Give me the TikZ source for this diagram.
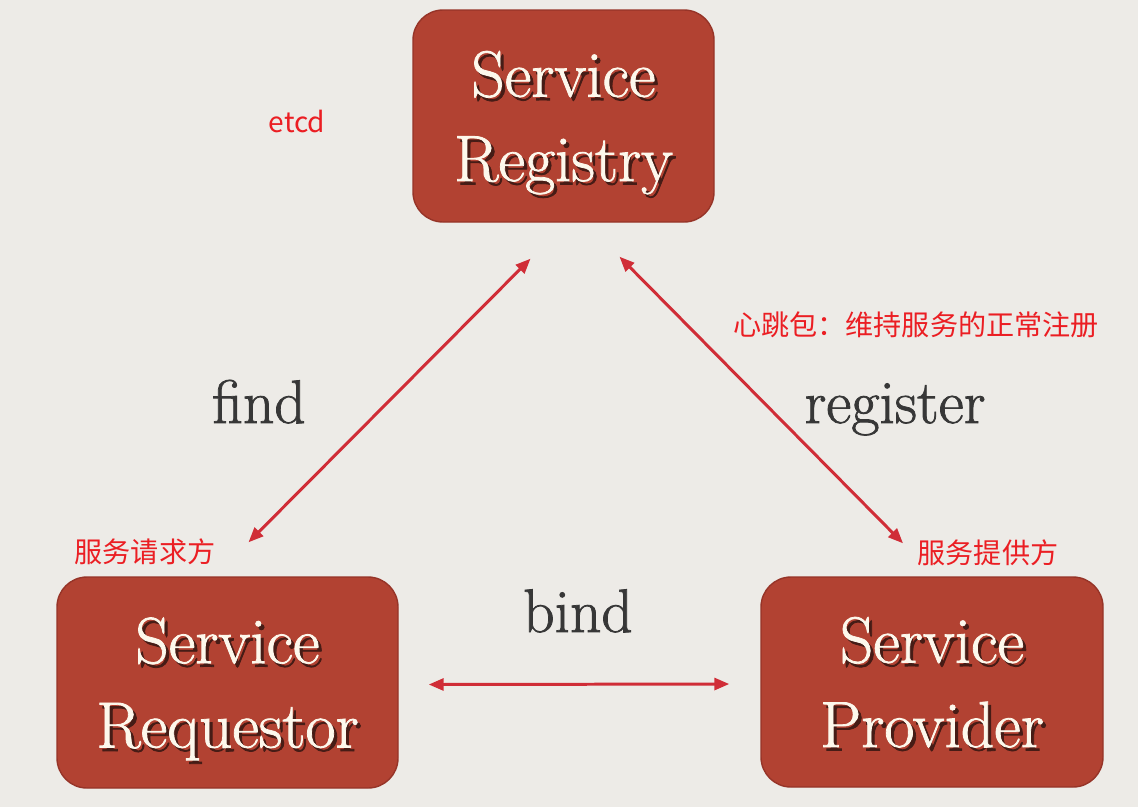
\documentclass[tikz,border=0pt]{standalone}
\usepackage{fontspec}
\newfontfamily\cjk{Noto Sans CJK SC}
\newfontfamily\slide{Latin Modern Roman}[FakeBold=1.2]
\usetikzlibrary{arrows.meta}

\definecolor{bg}{RGB}{237,235,231}
\definecolor{boxred}{RGB}{178,66,50}
\definecolor{boxedge}{RGB}{150,52,40}
\definecolor{boxtext}{RGB}{253,248,236}
\definecolor{shade}{RGB}{70,28,22}
\definecolor{lblgray}{RGB}{55,55,55}
\definecolor{notered}{RGB}{235,30,35}
\definecolor{linkred}{RGB}{208,45,55}

\begin{document}
\begin{tikzpicture}[
  boxfont/.style={font=\slide\fontsize{18.6pt}{24pt}\selectfont, align=center, text depth=0pt},
  svcbox/.style={rounded corners=0.3cm, fill=boxred, draw=boxedge, line width=0.4pt,
    text=boxtext, boxfont,
    path picture={\node[boxfont, text=shade, draw=none, fill=none]
      at ([shift={(0.9pt,-1pt)}]path picture bounding box.center) {#1};},
    node contents={#1}},
  lbl/.style={text=lblgray, anchor=base, font=\slide\fontsize{17.5pt}{20pt}\selectfont},
  note/.style={text=notered, font=\cjk\fontsize{8pt}{10pt}\selectfont},
  link/.style={linkred, line width=0.85pt, >={Triangle[length=1.5mm,width=1.2mm]}, <->}
]

\path[use as bounding box, fill=bg] (0,0) rectangle (11.38,8.07);

% the three parties
\node (reg) at (5.635,6.91) [svcbox={Service\\Registry}, minimum width=3.01cm, minimum height=2.12cm];
\node (req) at (2.275,1.245) [svcbox={Service\\Requestor}, minimum width=3.41cm, minimum height=2.11cm];
\node (prov) at (9.32,1.25) [svcbox={Service\\Provider}, minimum width=3.42cm, minimum height=2.10cm];

% connections
\draw[link] ([shift={(0.21,0.34)}]req.north) -- ([shift={(-0.33,-0.36)}]reg.south);
\draw[link] ([shift={(0.56,-0.34)}]reg.south) -- ([shift={(-0.29,0.33)}]prov.north);
\draw[link] ([shift={(0.30,-0.02)}]req.east) -- ([shift={(-0.31,-0.02)}]prov.west);

\node[lbl] (lfind) at (2.59,3.84) {find};
\node[lbl] (lreg) at (8.95,3.84) {register};
\node[lbl] (lbind) at (5.78,1.75) {bind};

% notes
\node[note, anchor=base] (etcd) at (2.97,6.75) {etcd};
\node[note] (reqnote) at (1.45,2.55) {服务请求方};
\node[note] (provnote) at (9.88,2.54) {服务提供方};
\node[note] (hbnote) at (9.16,4.82) {心跳包：维持服务的正常注册};

\end{tikzpicture}
\end{document}
